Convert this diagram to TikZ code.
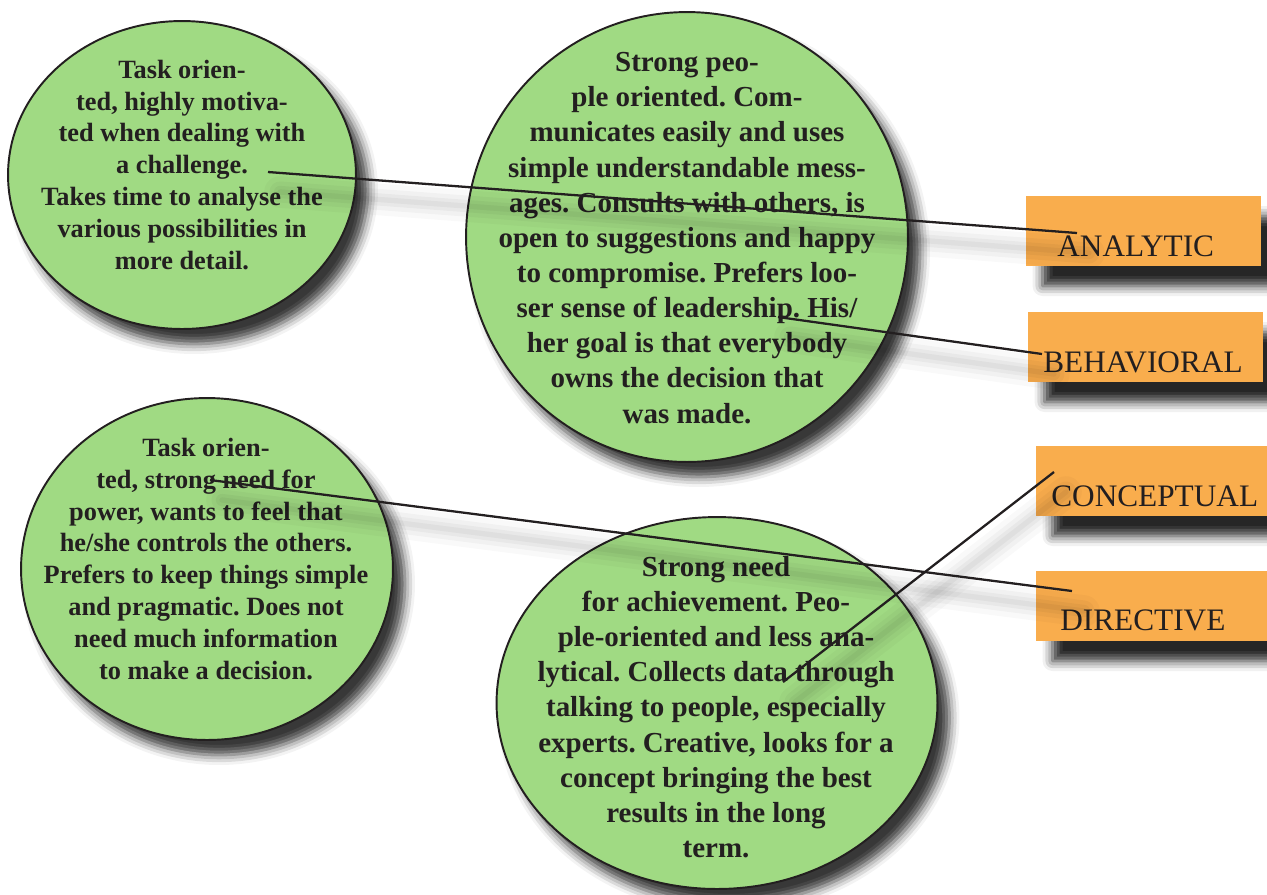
\documentclass[tikz,border=0pt]{standalone}
\usepackage{fontspec}
\setmainfont{Liberation Serif}
\usepackage{tikz}
\usetikzlibrary{shapes.geometric}
\usetikzlibrary{shadows.blur}
\usetikzlibrary{positioning}
\definecolor{bubblegreen}{RGB}{160,218,131}
\definecolor{tagorange}{RGB}{249,173,77}
\definecolor{ink}{RGB}{35,31,32}
\frenchspacing

\begin{document}
\begin{tikzpicture}[
                x = 0.02cm, y = -0.02cm,
                bubble/.style = {ellipse, draw = ink, line width = 1.1pt,
                  fill = bubblegreen, inner sep = 0pt,
                  blur shadow = {shadow xshift = 0.24cm, shadow yshift = -0.3cm,
                  shadow blur radius = 0.2cm, shadow opacity = 78}},
                tag/.style = {rectangle, fill = tagorange, inner sep = 0pt,
                  minimum width = 4.72cm, minimum height = 1.4cm,
                  blur shadow = {shadow xshift = 0.34cm, shadow yshift = -0.4cm,
                  shadow blur radius = 0.2cm, shadow opacity = 85}},
                small text/.style = {align = center, inner sep = 0pt, text = ink,
                  font = \bfseries\fontsize{15}{18.2}\selectfont},
                big text/.style = {align = center, inner sep = 0pt, text = ink,
                  font = \bfseries\fontsize{16.5}{20}\selectfont},
                tag text/.style = {anchor = base west, inner sep = 0pt, text = ink,
                  font = \fontsize{17.8}{21}\selectfont},
                lead/.style = {draw = ink, line width = 1.3pt,
                  preaction = {draw = black, opacity = 0.025, line width = 18pt,
                    line cap = round,
                    transform canvas = {shift = {(0.24cm,-0.4cm)}}},
                  preaction = {draw = black, opacity = 0.03, line width = 12pt,
                    line cap = round,
                    transform canvas = {shift = {(0.24cm,-0.4cm)}}},
                  preaction = {draw = black, opacity = 0.035, line width = 7pt,
                    line cap = round,
                    transform canvas = {shift = {(0.24cm,-0.4cm)}}},
                  preaction = {draw = black, opacity = 0.04, line width = 3pt,
                    line cap = round,
                    transform canvas = {shift = {(0.24cm,-0.4cm)}}}}
                ]
  \useasboundingbox (0,0) rectangle (1267,894);

  % Bubbles
  \node[bubble, minimum width = 6.96cm, minimum height = 6.16cm] (analytic-bubble) at (182,175) {};
  \node[bubble, minimum width = 8.84cm, minimum height = 9.0cm]  (behavioral-bubble) at (687,237) {};
  \node[bubble, minimum width = 7.44cm, minimum height = 6.84cm] (directive-bubble) at (207,569) {};
  \node[bubble, minimum width = 8.82cm, minimum height = 7.44cm] (conceptual-bubble) at (717,703) {};

  \node[small text] (analytic-text) at (182,165)
    {Task orien-\\ted, highly motiva-\\ted when dealing with\\a challenge.\\Takes time to analyse the\\various possibilities in\\more detail.};
  \node[big text] (behavioral-text) at (687,238)
    {Strong peo-\\ple oriented. Com-\\municates easily and uses\\simple understandable mess-\\ages. Consults with others, is\\open to suggestions and happy\\to compromise. Prefers loo-\\ser sense of leadership. His/\\her goal is that everybody\\owns the decision that\\was made.};
  \node[small text] (directive-text) at (206,559)
    {Task orien-\\ted, strong need for\\power, wants to feel that\\he/she controls the others.\\Prefers to keep things simple\\and pragmatic. Does not\\need much information\\to make a decision.};
  \node[big text] (conceptual-text) at (716,707)
    {Strong need\\for achievement. Peo-\\ple-oriented and less ana-\\lytical. Collects data through\\talking to people, especially\\experts. Creative, looks for a\\concept bringing the best\\results in the long\\term.};

  % Tags
  \node[tag] (analytic)   at (1143.5,231) {};
  \node[tag] (behavioral) at (1145.5,347) {};
  \node[tag] (conceptual) at (1153.5,481) {};
  \node[tag] (directive)  at (1153.5,606) {};

  \node[tag text] (analytic-label)   at (1057,256) {ANALYTIC};
  \node[tag text] (behavioral-label) at (1043,372) {BEHAVIORAL};
  \node[tag text] (conceptual-label) at (1051,506) {CONCEPTUAL};
  \node[tag text] (directive-label)  at (1060,630) {DIRECTIVE};

  % Leads
  \coordinate (analytic-from)   at (268,172);
  \coordinate (analytic-to)     at (1077,233);
  \coordinate (behavioral-from) at (778,317);
  \coordinate (behavioral-to)   at (1042,354);
  \coordinate (conceptual-from) at (783,682);
  \coordinate (conceptual-to)   at (1054,472);
  \coordinate (directive-from)  at (210,480);
  \coordinate (directive-to)    at (1072,591);

  \draw[lead] (analytic-from)   -- (analytic-to);
  \draw[lead] (behavioral-from) -- (behavioral-to);
  \draw[lead] (conceptual-from) -- (conceptual-to);
  \draw[lead] (directive-from)  -- (directive-to);
\end{tikzpicture}
\end{document}
